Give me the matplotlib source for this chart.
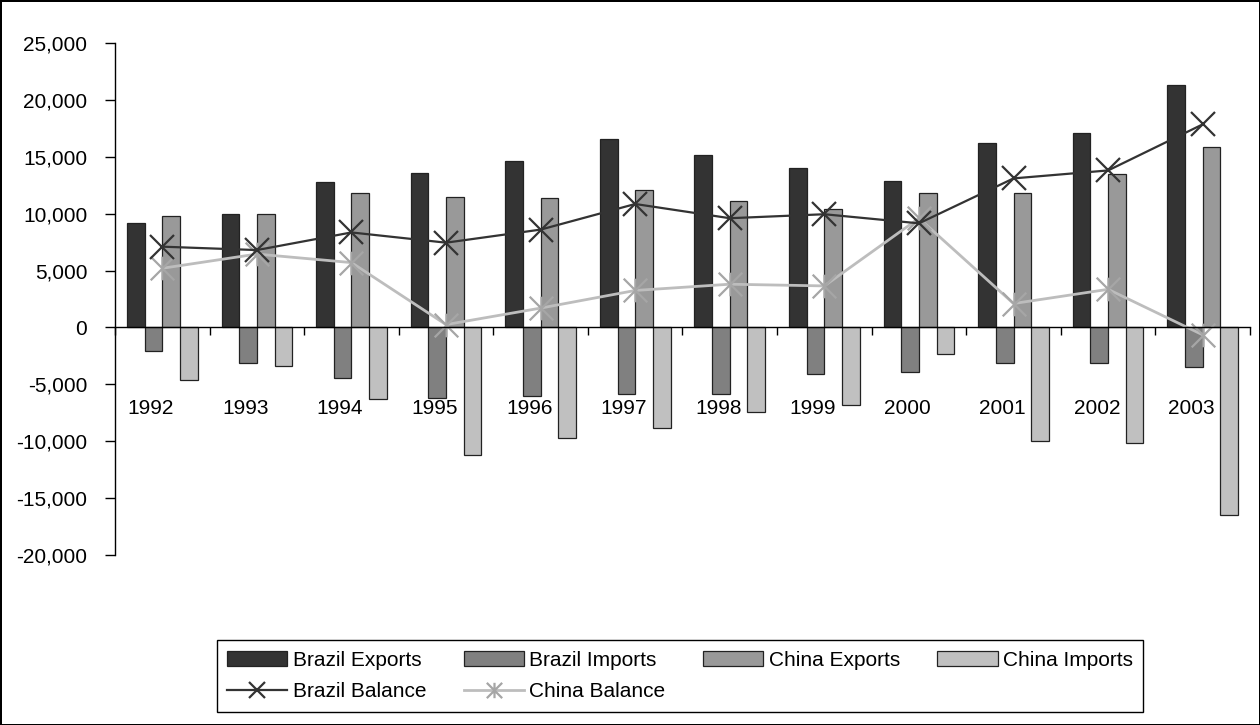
import matplotlib
matplotlib.use("Agg")
import matplotlib.pyplot as plt
from matplotlib.path import Path
from matplotlib.ticker import FuncFormatter, FixedLocator
import numpy as np

plt.rcParams['font.family'] = ['Liberation Sans', 'DejaVu Sans']

years = ["1992", "1993", "1994", "1995", "1996", "1997", "1998", "1999",
         "2000", "2001", "2002", "2003"]
brazil_exports = [9200, 9950, 12750, 13600, 14650, 16600, 15200, 14000,
                  12900, 16250, 17100, 21300]
brazil_imports = [-2100, -3150, -4400, -6200, -6000, -5850, -5850, -4050,
                  -3900, -3150, -3150, -3500]
china_exports = [9800, 9950, 11850, 11500, 11350, 12050, 11150, 10450,
                 11850, 11850, 13450, 15900]
china_imports = [-4600, -3350, -6300, -11200, -9700, -8800, -7400, -6850,
                 -2300, -10000, -10150, -16500]
brazil_balance = [7100, 6800, 8350, 7450, 8600, 10850, 9600, 9950,
                  9150, 13100, 13800, 17850]
china_balance = [5200, 6450, 5700, 250, 1700, 3250, 3800, 3650,
                 9600, 2100, 3350, -650]

fig = plt.figure(figsize=(12.6, 7.25), dpi=100)
fig.patch.set_facecolor('white')
fig.patch.set_edgecolor('black')
fig.patch.set_linewidth(2)

ax = fig.add_axes([115/1260, 1-555/725, (1250-115)/1260, (555-43)/725])

x = np.arange(len(years))
w = 0.187
bar_series = [
    (brazil_exports, '#333333', 'Brazil Exports'),
    (brazil_imports, '#808080', 'Brazil Imports'),
    (china_exports, '#999999', 'China Exports'),
    (china_imports, '#c0c0c0', 'China Imports'),
]
handles = {}
for k, (vals, col, lab) in enumerate(bar_series):
    h = ax.bar(x + (k - 1.5) * w, vals, width=w, color=col,
               edgecolor='#222222', linewidth=0.9, label=lab, zorder=2)
    handles[lab] = h

star = Path([(-1, -1), (1, 1), (-1, 1), (1, -1), (0, -1), (0, 1)],
            [Path.MOVETO, Path.LINETO, Path.MOVETO, Path.LINETO,
             Path.MOVETO, Path.LINETO])

hb, = ax.plot(x, brazil_balance, color='#333333', lw=1.6, marker='x',
              markersize=17, markeredgewidth=1.6, label='Brazil Balance',
              zorder=4)
hc, = ax.plot(x, china_balance, color='#bdbdbd', lw=2.0, marker=star,
              markersize=17, markeredgewidth=1.6, markeredgecolor='#a6a6a6',
              label='China Balance', zorder=3)

ax.set_xlim(-0.5, len(years) - 0.5)
ax.set_ylim(-20000, 25000)
ax.set_yticks(np.arange(-20000, 25001, 5000))
ax.yaxis.set_major_formatter(FuncFormatter(lambda v, p: f"{int(v):,}"))
ax.tick_params(axis='y', labelsize=15, length=7, width=1, pad=13,
               direction='out', colors='black')

ax.spines['top'].set_visible(False)
ax.spines['right'].set_visible(False)
ax.spines['bottom'].set_position(('data', 0))
ax.spines['bottom'].set_zorder(5)
ax.spines['left'].set_linewidth(1)
ax.spines['bottom'].set_linewidth(1)
ax.xaxis.set_major_locator(FixedLocator(np.arange(-0.5, len(years), 1.0)))
ax.tick_params(axis='x', length=6, width=1, direction='out', labelbottom=False)

for i, yr in enumerate(years):
    ax.text(i - 0.12, -7100, yr, ha='center', va='center', fontsize=15,
            zorder=6)

order = ['Brazil Exports', 'Brazil Balance', 'Brazil Imports', 'China Balance',
         'China Exports', 'China Imports']
hmap = dict(handles)
hmap['Brazil Balance'] = hb
hmap['China Balance'] = hc
leg = fig.legend([hmap[o] for o in order], order, ncol=4, loc='center',
                 bbox_to_anchor=(680/1260, 1-676/725), fontsize=15,
                 frameon=True, fancybox=False, edgecolor='black',
                 framealpha=1, handlelength=2.9, handleheight=0.7,
                 handletextpad=0.25, columnspacing=1.8, borderpad=0.5,
                 labelspacing=0.6, markerscale=0.65)
leg.get_frame().set_linewidth(1)

fig.savefig('out.png', dpi=100)
